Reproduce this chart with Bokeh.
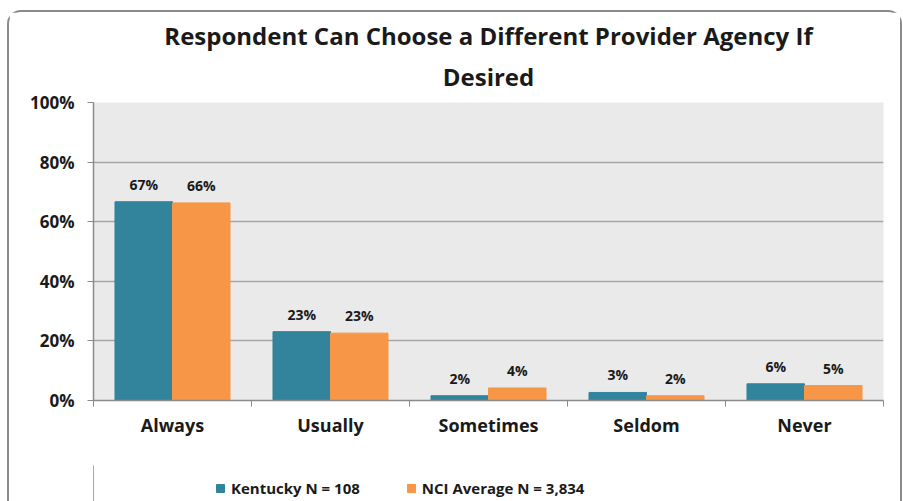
from bokeh.plotting import figure
from bokeh.layouts import column
from bokeh.models import (ColumnDataSource, FixedTicker, Range1d, Legend, LegendItem,
                          Title, LabelSet)
from bokeh.core.properties import value
from bokeh.transform import dodge
from bokeh.embed import file_html
from bokeh.resources import INLINE

categories = ["Always", "Usually", "Sometimes", "Seldom", "Never"]
kentucky = [66.7, 23.1, 1.6, 2.7, 5.6]
nci = [66.3, 22.6, 4.2, 1.6, 5.0]
series_names = ["Kentucky N = 108", "NCI Average N = 3,834"]
y_ticks = [0, 20, 40, 60, 80, 100]
y_tick_labels = ["0%", "20%", "40%", "60%", "80%", "100%"]
title_lines = ["Respondent Can Choose a Different Provider Agency If", "Desired"]

TEAL = "#31849B"
ORANGE = "#F79646"
FONT = "Open Sans"
TXT = "#1a1a1a"

xs = [i + 0.5 for i in range(len(categories))]
src = ColumnDataSource(dict(
    x=xs, k=kentucky, n=nci,
    kl=[f"{round(v)}%" for v in kentucky],
    nl=[f"{round(v)}%" for v in nci],
))

p = figure(width=891, height=453, output_backend="svg", toolbar_location=None,
           x_range=Range1d(0, len(categories)), y_range=Range1d(0, 100),
           min_border_left=84, min_border_right=17, min_border_top=90,
           min_border_bottom=65)
p.background_fill_color = "#EAEAEA"
p.border_fill_color = "white"
p.outline_line_color = None

kb = p.vbar(x=dodge("x", -0.182, range=p.x_range), top="k", width=0.364, source=src,
            fill_color=TEAL, line_color=TEAL)
nb = p.vbar(x=dodge("x", 0.182, range=p.x_range), top="n", width=0.364, source=src,
            fill_color=ORANGE, line_color=ORANGE)

for col, lab, off in (("k", "kl", -0.182), ("n", "nl", 0.182)):
    ls = LabelSet(x=dodge("x", off, range=p.x_range), y=col, text=lab, source=src,
                  text_align="center", text_baseline="bottom", y_offset=8,
                  text_font=value(FONT), text_font_style="bold",
                  text_font_size="14px", text_color=TXT)
    p.add_layout(ls)

# axes
p.xaxis.ticker = FixedTicker(ticks=xs, minor_ticks=list(range(len(categories) + 1)))
p.xaxis.major_label_overrides = {x: c for x, c in zip(xs, categories)}
p.xaxis.major_tick_line_color = None
p.xaxis.minor_tick_in = 0
p.xaxis.minor_tick_out = 6
p.xaxis.minor_tick_line_color = "#8a8a8a"
p.xaxis.axis_line_color = "#8a8a8a"
p.xaxis.axis_line_width = 1.5
p.xaxis.major_label_standoff = 6
p.xaxis.major_label_text_font = FONT
p.xaxis.major_label_text_font_style = "bold"
p.xaxis.major_label_text_font_size = "18px"
p.xaxis.major_label_text_color = TXT

p.yaxis.ticker = FixedTicker(ticks=y_ticks, minor_ticks=[])
p.yaxis.major_label_overrides = {t: l for t, l in zip(y_ticks, y_tick_labels)}
p.yaxis.major_tick_in = 0
p.yaxis.major_tick_out = 6
p.yaxis.major_tick_line_color = "#8a8a8a"
p.yaxis.axis_line_color = "#8a8a8a"
p.yaxis.axis_line_width = 1.5
p.yaxis.major_label_standoff = 13
p.yaxis.major_label_text_font = FONT
p.yaxis.major_label_text_font_style = "bold"
p.yaxis.major_label_text_font_size = "17px"
p.yaxis.major_label_text_color = TXT

p.xgrid.grid_line_color = None
p.ygrid.ticker = FixedTicker(ticks=y_ticks)
p.ygrid.grid_line_color = "#A6A6A6"
p.ygrid.grid_line_width = 1.5

# title (second line added first -> closer to the plot)
p.add_layout(Title(text=title_lines[1], align="center", text_font=FONT,
                   text_font_size="24px", text_font_style="bold",
                   text_color=TXT, standoff=20), "above")
p.add_layout(Title(text=title_lines[0], align="center", text_font=FONT,
                   text_font_size="24px", text_font_style="bold",
                   text_color=TXT, standoff=-8), "above")

# legend strip below the chart (swatch renderers sit outside the visible range)
lf = figure(width=891, height=36, output_backend="svg", toolbar_location=None,
            x_range=Range1d(0, 1), y_range=Range1d(0, 1),
            x_axis_location=None, y_axis_location=None, min_border=0)
lf.outline_line_color = None
lf.grid.grid_line_color = None
lf.background_fill_color = "white"
lk = lf.vbar(x=[-5], top=[1], width=1, fill_color=TEAL, line_color=TEAL)
ln = lf.vbar(x=[-5], top=[1], width=1, fill_color=ORANGE, line_color=ORANGE)
legend = Legend(items=[LegendItem(label=series_names[0], renderers=[lk]),
                       LegendItem(label=series_names[1], renderers=[ln])],
                orientation="horizontal", location=(122, 3),
                label_text_font=FONT, label_text_font_style="bold",
                label_text_font_size="15px", label_text_color=TXT,
                glyph_width=10, glyph_height=10, spacing=46, padding=0,
                margin=0, label_standoff=6, border_line_color=None,
                background_fill_alpha=0)
lf.add_layout(legend, "center")

layout = column(p, lf, spacing=0,
                styles={"border-top": "2px solid #8a8a8a", "border-left": "2px solid #8a8a8a",
                        "border-right": "2px solid #8a8a8a",
                        "border-top-left-radius": "14px",
                        "border-top-right-radius": "14px",
                        "margin-left": "7px", "margin-top": "10px"})

open("out.html", "w").write(file_html(layout, INLINE))
